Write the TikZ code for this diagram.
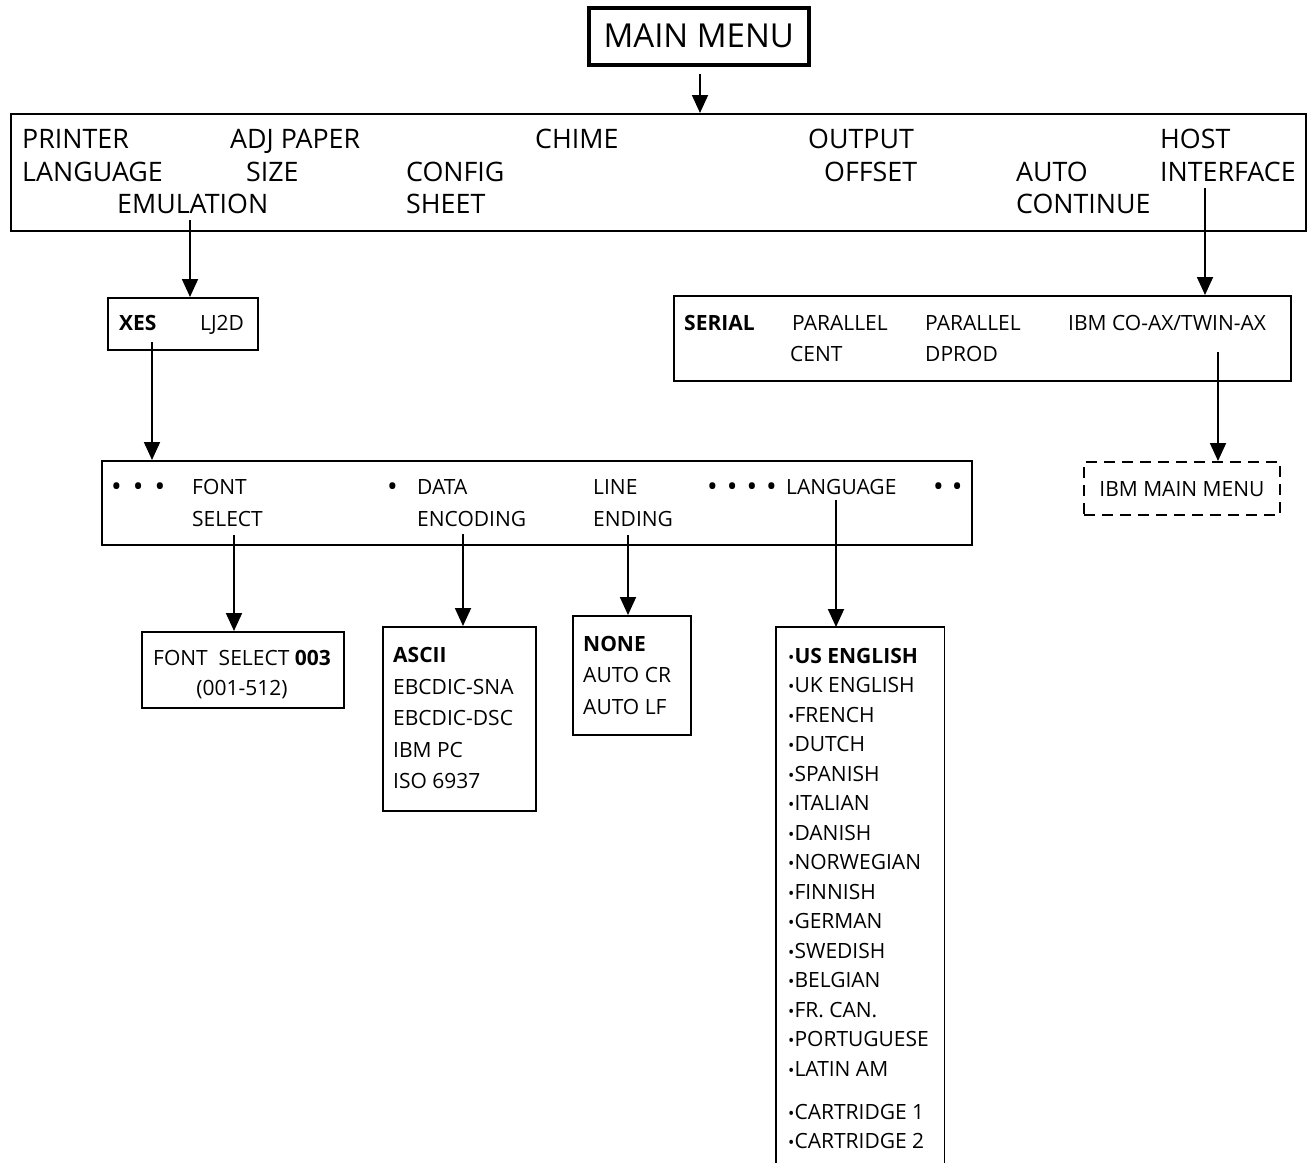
\documentclass[tikz,border=0pt]{standalone}
\usepackage{fontspec}
\setmainfont{Open Sans}
\usetikzlibrary{arrows.meta}
\newcommand{\bigbul}{\raisebox{-2.5pt}{\scalebox{1.35}{•}}}
\begin{document}
\begin{tikzpicture}[x=1pt,y=-1pt,
  box/.style={draw, line width=1.8pt, inner sep=0pt, anchor=north west},
  arr/.style={line width=1.8pt, -{Triangle[width=16pt,length=18pt]}},
  big/.style={font=\fontsize{26.8}{30}\selectfont, anchor=base west, inner sep=0pt},
  sm/.style={font=\fontsize{21}{24}\selectfont, anchor=base west, inner sep=0pt},
  smc/.style={font=\fontsize{21}{24}\selectfont, anchor=base, inner sep=0pt}]
\useasboundingbox (0,0) rectangle (1308,1162);

% boxes
\node[box, line width=3.5pt, minimum width=220pt, minimum height=57pt] (mainmenu) at (587,6) {};
\node[font=\fontsize{33}{36}\selectfont, inner sep=0pt] (mmtext) at (mainmenu.center) {MAIN MENU};
\node[box, minimum width=1295pt, minimum height=117pt] (top) at (10,113) {};
\node[box, minimum width=150pt, minimum height=52pt] (xes) at (107,297) {};
\node[box, minimum width=617pt, minimum height=85pt] (serial) at (673,295) {};
\node[box, minimum width=870pt, minimum height=84pt] (fontbar) at (101,460) {};
\node[box, dash pattern=on 11pt off 7pt, minimum width=196pt, minimum height=53pt] (ibm) at (1083,461) {};
\node[box, minimum width=202pt, minimum height=76pt] (fsel) at (141,631) {};
\node[box, minimum width=153pt, minimum height=184pt] (ascii) at (382,626) {};
\node[box, minimum width=118pt, minimum height=119pt] (none) at (572,615) {};
\node[anchor=north west, inner sep=0pt, minimum width=168pt, minimum height=540pt] (lang) at (776,627) {};
\draw[line width=1.8pt] (lang.south west) -- (lang.north west) -- (lang.north east) -- (lang.south east);

% top bar texts
\node[big] (t1) at (22,148) {PRINTER};
\node[big] (t2) at (22,181) {LANGUAGE};
\node[big] (t3) at (117,213) {EMULATION};
\node[big] (t4) at (230,148) {ADJ PAPER};
\node[big] (t5) at (246,181) {SIZE};
\node[big] (t6) at (406,181) {CONFIG};
\node[big] (t7) at (406,213) {SHEET};
\node[big] (t8) at (535,148) {CHIME};
\node[big] (t9) at (808,148) {OUTPUT};
\node[big] (t10) at (824,181) {OFFSET};
\node[big] (t11) at (1016,181) {AUTO};
\node[big] (t12) at (1016,213) {CONTINUE};
\node[big] (t13) at (1160,148) {HOST};
\node[big] (t14) at (1160,181) {INTERFACE};

% XES box
\node[sm] (x1) at (119,330) {\bfseries XES};
\node[sm] (x2) at (200,330) {LJ2D};

% serial box
\node[sm] (s1) at (684,330) {\bfseries SERIAL};
\node[sm] (s2) at (792,330) {PARALLEL};
\node[sm] (s3) at (790,361) {CENT};
\node[sm] (s4) at (925,330) {PARALLEL};
\node[sm] (s5) at (925,361) {DPROD};
\node[sm] (s6) at (1068,330) {IBM CO-AX/TWIN-AX};

% IBM main menu
\node[smc] (ibmt) at ([yshift=-8pt]ibm.center) {IBM MAIN MENU};

% font bar
\node[sm] (f0) at (111,494) {\bigbul\hspace{11pt}\bigbul\hspace{11pt}\bigbul};
\node[sm] (f1) at (192,494) {FONT};
\node[sm] (f2) at (192,526) {SELECT};
\node[sm] (f3) at (387,494) {\bigbul};
\node[sm] (f4) at (417,494) {DATA};
\node[sm] (f5) at (417,526) {ENCODING};
\node[sm] (f6) at (593,494) {LINE};
\node[sm] (f7) at (593,526) {ENDING};
\node[sm] (f8) at (707,494) {\bigbul\hspace{9pt}\bigbul\hspace{9pt}\bigbul\hspace{9pt}\bigbul};
\node[sm] (f9) at (786,494) {LANGUAGE};
\node[sm] (f10) at (933,494) {\bigbul\hspace{8pt}\bigbul};

% font select box
\node[smc] (fs1) at (242,665) {FONT\ \ SELECT \textbf{003}};
\node[smc] (fs2) at (242,695) {(001-512)};

% ascii box
\node[sm] (a1) at (393,662) {\bfseries ASCII};
\node[sm] (a2) at (393,694) {EBCDIC-SNA};
\node[sm] (a3) at (393,725) {EBCDIC-DSC};
\node[sm] (a4) at (393,757) {IBM PC};
\node[sm] (a5) at (393,788) {ISO 6937};

% none box
\node[sm] (n1) at (583,651) {\bfseries NONE};
\node[sm] (n2) at (583,682) {AUTO CR};
\node[sm] (n3) at (583,714) {AUTO LF};

% language list
\foreach \t [count=\i from 0] in {UK ENGLISH,FRENCH,DUTCH,SPANISH,ITALIAN,DANISH,NORWEGIAN,FINNISH,GERMAN,SWEDISH,BELGIAN,FR. CAN.,PORTUGUESE,LATIN AM}
  \node[sm] (l\i) at (788,{692.5+29.5*\i}) {\scalebox{0.8}{•}\t};
\node[sm] (l0b) at (788,663) {\scalebox{0.8}{•}\textbf{US ENGLISH}};
\node[sm] (lc1) at (788,1119) {\scalebox{0.8}{•}CARTRIDGE 1};
\node[sm] (lc2) at (788,1148) {\scalebox{0.8}{•}CARTRIDGE 2};

% connectors
\coordinate (cm) at (700,74);
\draw[arr] (cm) -- (cm |- top.north);
\coordinate (ce) at (190,220);
\draw[arr] (ce) -- (ce |- xes.north);
\coordinate (ch) at (1205,188);
\draw[arr] (ch) -- (ch |- serial.north);
\coordinate (cx) at (152,342);
\draw[arr] (cx) -- (cx |- fontbar.north);
\coordinate (ci) at (1218,352);
\draw[arr] (ci) -- (ci |- ibm.north);
\coordinate (cf) at (234,535);
\draw[arr] (cf) -- (cf |- fsel.north);
\coordinate (cd) at (463,534);
\draw[arr] (cd) -- (cd |- ascii.north);
\coordinate (cl) at (628,535);
\draw[arr] (cl) -- (cl |- none.north);
\coordinate (cg) at (836,500);
\draw[arr] (cg) -- (cg |- lang.north);
\end{tikzpicture}
\end{document}
